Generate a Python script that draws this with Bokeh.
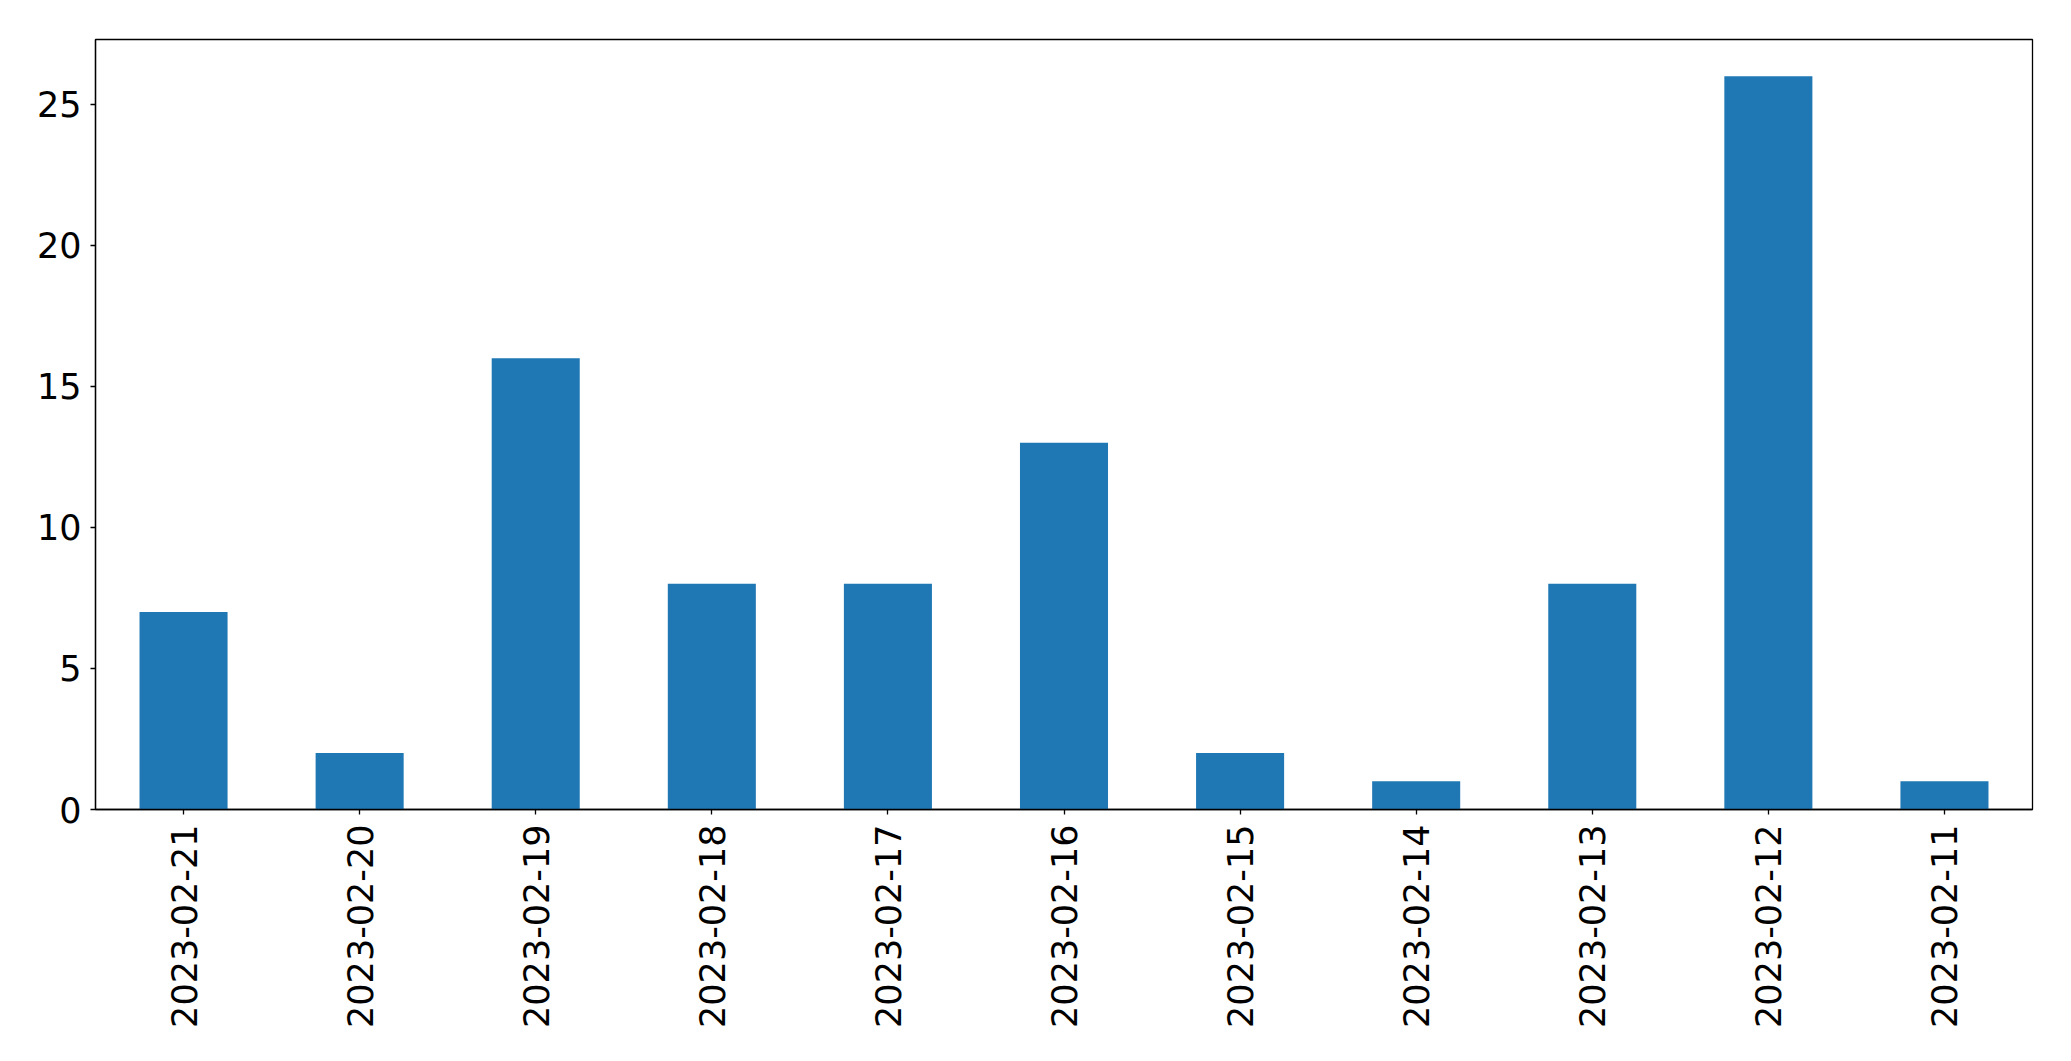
import math
from bokeh.plotting import figure
from bokeh.models import FactorRange, Range1d, FixedTicker, ColumnDataSource
from bokeh.embed import file_html
from bokeh.resources import INLINE

dates = ["2023-02-21", "2023-02-20", "2023-02-19", "2023-02-18", "2023-02-17",
         "2023-02-16", "2023-02-15", "2023-02-14", "2023-02-13", "2023-02-12",
         "2023-02-11"]
counts = [7, 2, 16, 8, 8, 13, 2, 1, 8, 26, 1]
y_ticks = [0, 5, 10, 15, 20, 25]

src = ColumnDataSource(dict(x=dates, top=counts))

p = figure(width=2063, height=1053, output_backend="svg", toolbar_location=None,
           x_range=FactorRange(*dates, range_padding=0),
           y_range=Range1d(0, 27.3))
p.min_border_left = 95
p.min_border_right = 31
p.min_border_top = 39
p.min_border_bottom = 244

p.vbar(x="x", top="top", width=0.5, source=src, color="#1f77b4", line_color=None)

p.xgrid.visible = False
p.ygrid.visible = False
p.outline_line_color = "black"
p.outline_line_width = 1.3
p.outline_line_alpha = 1

p.yaxis.ticker = FixedTicker(ticks=y_ticks)
p.yaxis.minor_tick_line_color = None
for ax in (p.xaxis[0], p.yaxis[0]):
    ax.major_label_text_font = "DejaVu Sans"
    ax.major_label_text_font_size = "35px"
    ax.major_label_text_color = "black"
    ax.axis_line_color = "black"
    ax.axis_line_width = 1.3
    ax.major_tick_line_color = "black"
    ax.major_tick_line_width = 1.3
    ax.major_tick_in = 0
    ax.major_tick_out = 5
p.yaxis.major_label_standoff = 9
p.xaxis.major_label_standoff = 10
p.xaxis.major_label_orientation = math.pi / 2

open("out.html", "w").write(file_html(p, INLINE))
